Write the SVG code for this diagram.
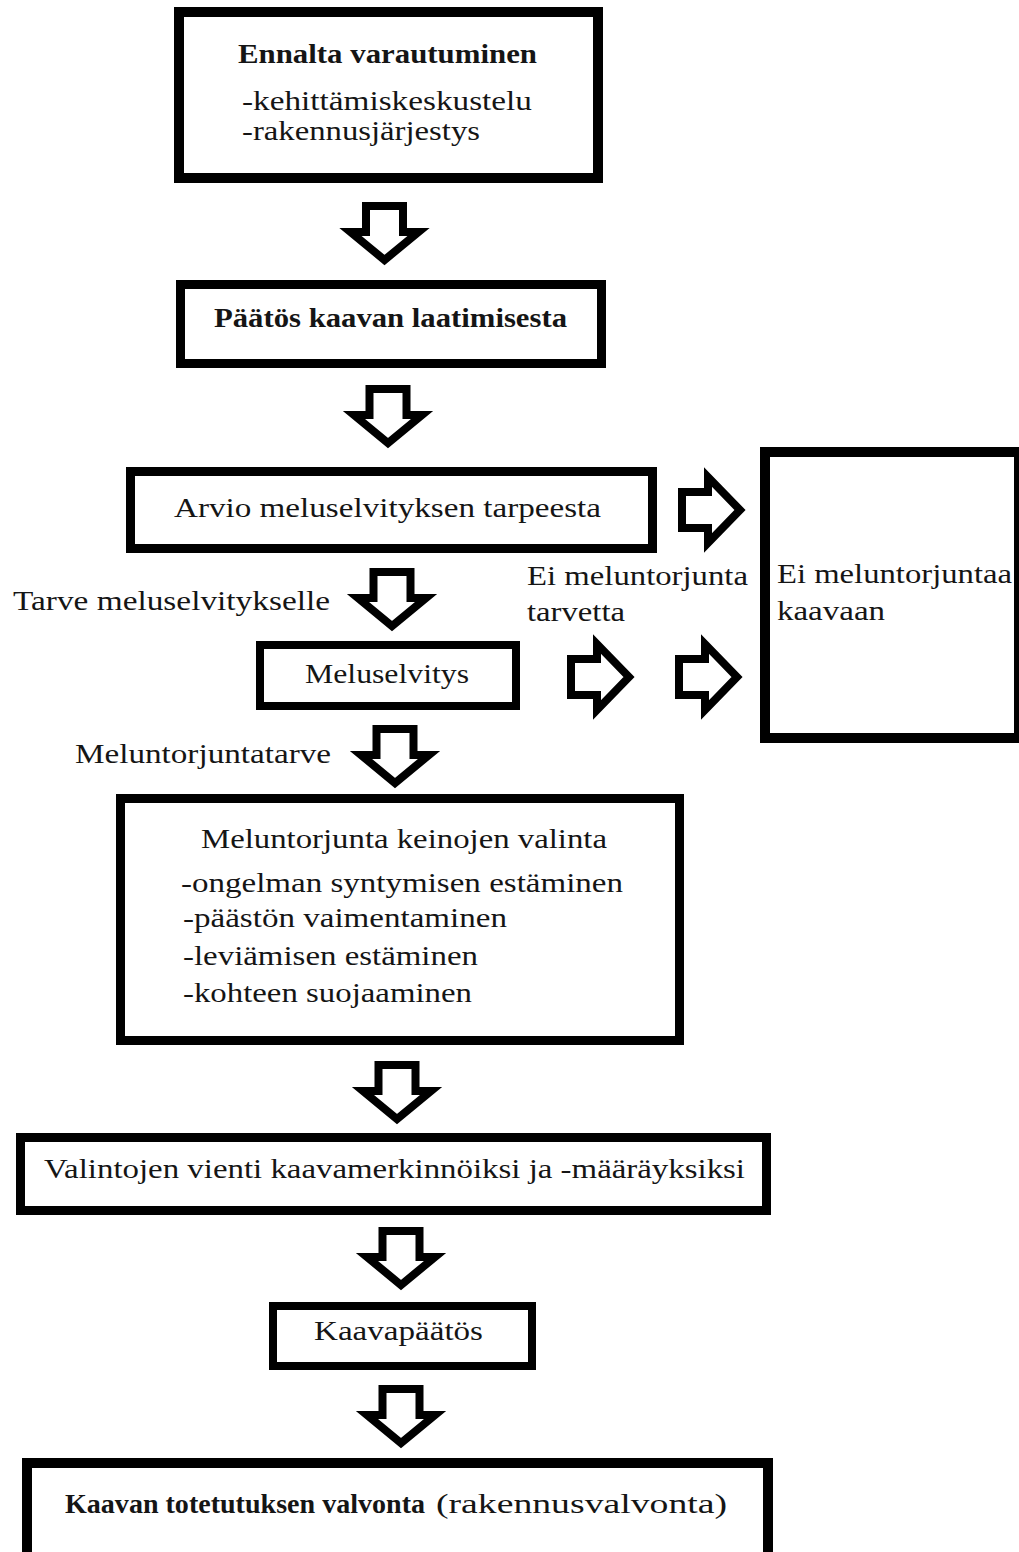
<svg xmlns="http://www.w3.org/2000/svg" width="1019" height="1552" viewBox="0 0 1019 1552">
<style>
.box{fill:#fff;stroke:#000}
.t{font-family:'Liberation Serif','Times New Roman',Tinos,'DejaVu Serif',serif;font-size:27px;fill:#151515}
.b{font-weight:bold}
.arr{fill:#fff;stroke:#000;stroke-width:8;stroke-linejoin:miter;stroke-miterlimit:4}
</style>
<defs>
<path id="down" class="arr" d="M -18.5,4 L 18.5,4 L 18.5,30 L 34,30 L 0,58 L -34,30 L -18.5,30 Z"/>
<path id="right" class="arr" d="M 4,-18 L 30,-18 L 30,-33 L 62,0 L 30,33 L 30,18 L 4,18 Z"/>
</defs>
<rect width="1019" height="1552" fill="#fff"/>

<g id="connectors">
<use href="#down" transform="translate(384.5,202)"/>
<use href="#down" transform="translate(388,385)"/>
<use href="#down" transform="translate(392,568)"/>
<use href="#down" transform="translate(395,725)"/>
<use href="#down" transform="translate(397,1061)"/>
<use href="#down" transform="translate(401,1227)"/>
<use href="#down" transform="translate(401,1385)"/>
<use href="#right" transform="translate(678,510)"/>
<use href="#right" transform="translate(567,677)"/>
<use href="#right" transform="translate(675,677)"/>
</g>

<g id="n1" font-family="Liberation Serif, serif">
<rect class="box" x="179" y="12" width="419" height="166" stroke-width="10"/>
<text class="t b" x="238" y="63" textLength="299" lengthAdjust="spacingAndGlyphs">Ennalta varautuminen</text>
<text class="t" x="242" y="110" textLength="290" lengthAdjust="spacingAndGlyphs">-kehittämiskeskustelu</text>
<text class="t" x="242" y="140" textLength="238" lengthAdjust="spacingAndGlyphs">-rakennusjärjestys</text>
</g>

<g id="n2">
<rect class="box" x="180.5" y="284.5" width="421" height="79" stroke-width="9"/>
<text class="t b" x="214" y="327" textLength="353" lengthAdjust="spacingAndGlyphs">Päätös kaavan laatimisesta</text>
</g>

<g id="n3">
<rect class="box" x="130.5" y="471.5" width="522" height="77" stroke-width="9"/>
<text class="t" x="174" y="517" textLength="427" lengthAdjust="spacingAndGlyphs">Arvio meluselvityksen tarpeesta</text>
</g>

<g id="n4">
<rect class="box" x="765" y="452" width="254" height="286" stroke-width="10"/>
<text class="t" x="777" y="583" textLength="235" lengthAdjust="spacingAndGlyphs">Ei meluntorjuntaa</text>
<text class="t" x="777" y="620" textLength="108" lengthAdjust="spacingAndGlyphs">kaavaan</text>
</g>

<g id="lbl-tarve">
<text class="t" x="13" y="610" textLength="317" lengthAdjust="spacingAndGlyphs">Tarve meluselvitykselle</text>
</g>

<g id="lbl-ei">
<text class="t" x="527" y="585" textLength="221" lengthAdjust="spacingAndGlyphs">Ei meluntorjunta</text>
<text class="t" x="527" y="621" textLength="98" lengthAdjust="spacingAndGlyphs">tarvetta</text>
</g>

<g id="n5">
<rect class="box" x="260" y="645" width="256" height="61" stroke-width="8"/>
<text class="t" x="305" y="683" textLength="164" lengthAdjust="spacingAndGlyphs">Meluselvitys</text>
</g>

<g id="lbl-melu">
<text class="t" x="75" y="763" textLength="256" lengthAdjust="spacingAndGlyphs">Meluntorjuntatarve</text>
</g>

<g id="n6">
<rect class="box" x="120.5" y="798.5" width="559" height="242" stroke-width="9"/>
<text class="t" x="201" y="848" textLength="406" lengthAdjust="spacingAndGlyphs">Meluntorjunta keinojen valinta</text>
<text class="t" x="181" y="892" textLength="442" lengthAdjust="spacingAndGlyphs">-ongelman syntymisen estäminen</text>
<text class="t" x="183" y="927" textLength="324" lengthAdjust="spacingAndGlyphs">-päästön vaimentaminen</text>
<text class="t" x="183" y="965" textLength="295" lengthAdjust="spacingAndGlyphs">-leviämisen estäminen</text>
<text class="t" x="183" y="1002" textLength="289" lengthAdjust="spacingAndGlyphs">-kohteen suojaaminen</text>
</g>

<g id="n7">
<rect class="box" x="20.5" y="1137.5" width="746" height="73" stroke-width="9"/>
<text class="t" x="44" y="1178" textLength="701" lengthAdjust="spacingAndGlyphs">Valintojen vienti kaavamerkinnöiksi ja -määräyksiksi</text>
</g>

<g id="n8">
<rect class="box" x="273" y="1306" width="259" height="60" stroke-width="8"/>
<text class="t" x="314" y="1340" textLength="169" lengthAdjust="spacingAndGlyphs">Kaavapäätös</text>
</g>

<g id="n9">
<rect class="box" x="27" y="1463" width="741" height="120" stroke-width="10"/>
<text class="t b" x="65" y="1513" textLength="360" lengthAdjust="spacingAndGlyphs">Kaavan totetutuksen valvonta</text>
<text class="t" x="436" y="1513" textLength="291" lengthAdjust="spacingAndGlyphs">(rakennusvalvonta)</text>
</g>
</svg>
